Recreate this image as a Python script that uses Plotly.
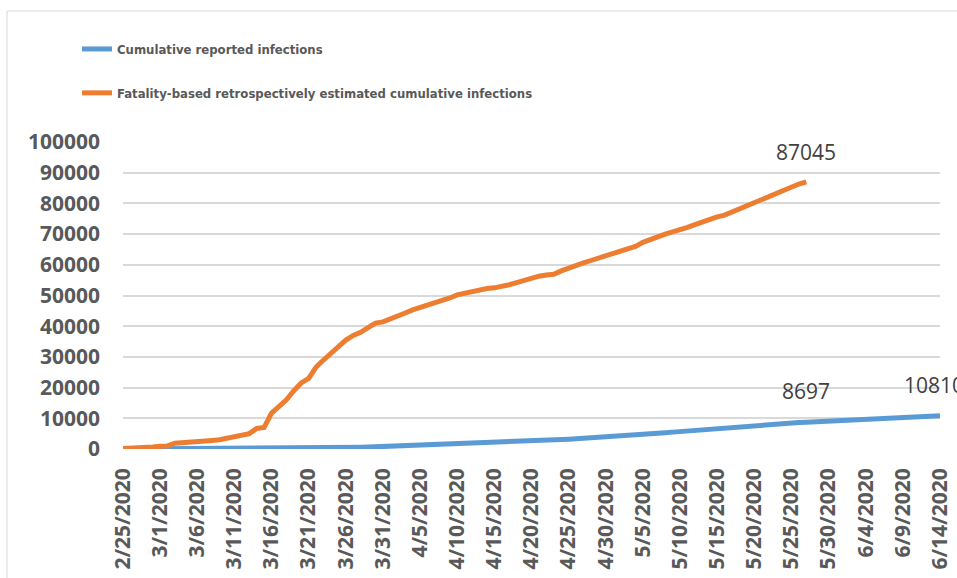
import plotly.graph_objects as go
import pandas as pd

start_date = "2020-02-25"
end_date = "2020-06-14"

reported = [
    0, 5, 10, 15, 20, 30, 40, 50, 60, 70,
    80, 90, 100, 110, 120, 130, 140, 150, 160, 180,
    200, 220, 240, 260, 280, 300, 330, 360, 390, 420,
    450, 500, 560, 620, 700, 800, 900, 1000, 1100, 1200,
    1300, 1380, 1460, 1540, 1620, 1700, 1800, 1900, 2000, 2100,
    2200, 2300, 2400, 2500, 2600, 2700, 2800, 2900, 3000, 3100,
    3200, 3330, 3460, 3590, 3720, 3850, 4000, 4150, 4300, 4450,
    4700, 4900, 5100, 5300, 5500, 5700, 5900, 6100, 6300, 6500,
    6700, 6900, 7100, 7300, 7500, 7700, 7900, 8100, 8300, 8450,
    8550, 8620, 8697, 8820, 8940, 9060, 9170, 9280, 9380, 9480,
    9600, 9720, 9840, 9960, 10080, 10200, 10320, 10440, 10560, 10680,
    10810,
]

estimated = [
    200, 250, 300, 450, 650, 900, 1000, 1900, 2000, 2100,
    2300, 2500, 2800, 3000, 3500, 3600, 4200, 5000, 6700, 7000,
    11700, 14000, 16000, 19000, 21500, 23000, 26700, 29000, 31200, 33500,
    35500, 37000, 38000, 39500, 41000, 41400, 42500, 43500, 44300, 45300,
    46000, 46800, 47500, 48300, 49200, 50200, 50800, 51300, 51800, 52300,
    52500, 52800, 53500, 54200, 55000, 55600, 56300, 56700, 56900, 58000,
    59000, 59800, 60600, 61400, 62200, 63000, 63800, 64600, 65300, 66000,
    67300, 68300, 69300, 70000, 70700, 71300, 72200, 73100, 74000, 74900,
    75600, 76200, 77200, 78300, 79500, 80400, 81300, 82100, 83100, 84200,
    85300, 86300, 87045,
]

series_names = [
    "Cumulative reported infections",
    "Fatality-based retrospectively estimated cumulative infections",
]

y_ticks = [0, 10000, 20000, 30000, 40000, 50000, 60000, 70000, 80000, 90000, 100000]

dates = pd.date_range(start_date, end_date, freq="D")
tick_dates = dates[::5]
tick_text = [f"{d.month}/{d.day}/{d.year}" for d in tick_dates]

BLUE = "#5B9BD5"
ORANGE = "#ED7D31"
GRAY = "#595959"

fig = go.Figure()
fig.add_trace(go.Scatter(
    x=dates[:len(reported)], y=reported, mode="lines", name=series_names[0],
    line=dict(color=BLUE, width=5), legendgroup="a",
))
fig.add_trace(go.Scatter(
    x=dates[:len(estimated)], y=estimated, mode="lines", name=series_names[1],
    line=dict(color=ORANGE, width=5), legendgroup="b",
))

label_font = dict(family="Open Sans, sans-serif", size=21, color="#404040")
last_est = len(estimated) - 1
fig.add_annotation(x=dates[last_est], y=estimated[-1], text=str(estimated[-1]),
                   showarrow=False, yshift=30, font=label_font)
fig.add_annotation(x=dates[last_est], y=reported[last_est], text=str(reported[last_est]),
                   showarrow=False, yshift=31, font=label_font)
fig.add_annotation(x=dates[len(reported) - 1], y=reported[-1], text=str(reported[-1]),
                   showarrow=False, yshift=31, xshift=-6, font=label_font)

# chart area border
fig.add_shape(type="rect", xref="paper", yref="paper",
              x0=-0.142, x1=1.2, y0=-0.6, y1=1.4267,
              line=dict(color="#D9D9D9", width=1), layer="below")

fig.update_layout(
    width=957, height=578,
    margin=dict(l=123, r=17, t=142, b=129, autoexpand=False),
    paper_bgcolor="white", plot_bgcolor="white",
    showlegend=True,
    legend=dict(
        xref="container", yref="container",
        x=77 / 957, y=1 - 34 / 578, xanchor="left", yanchor="top",
        font=dict(family="DejaVu Sans Condensed, sans-serif",
                  size=13, color=GRAY, weight="bold"),
        tracegroupgap=24, bgcolor="rgba(0,0,0,0)",
        itemclick=False,
    ),
    xaxis=dict(
        range=[dates[0], dates[-1]], tickmode="array",
        tickvals=list(tick_dates), ticktext=tick_text,
        tickangle=-90, showgrid=False, zeroline=False, showline=False,
        tickfont=dict(family="Open Sans, sans-serif", size=21, color=GRAY, weight="bold"),
        ticks="", ticklabelstandoff=14, automargin=False,
    ),
    yaxis=dict(
        range=[0, 100000], tickmode="array", tickvals=y_ticks,
        ticktext=[str(v) for v in y_ticks],
        showgrid=True, gridcolor="#D9D9D9", gridwidth=1.5,
        zeroline=False, showline=False, ticks="",
        tickfont=dict(family="Open Sans, sans-serif", size=21, color=GRAY, weight="bold"),
        ticklabelstandoff=22, automargin=False,
    ),
)

fig.write_html("out.html", config={"displayModeBar": False},
               post_script="document.body.style.margin='0';document.body.style.overflow='hidden';")
